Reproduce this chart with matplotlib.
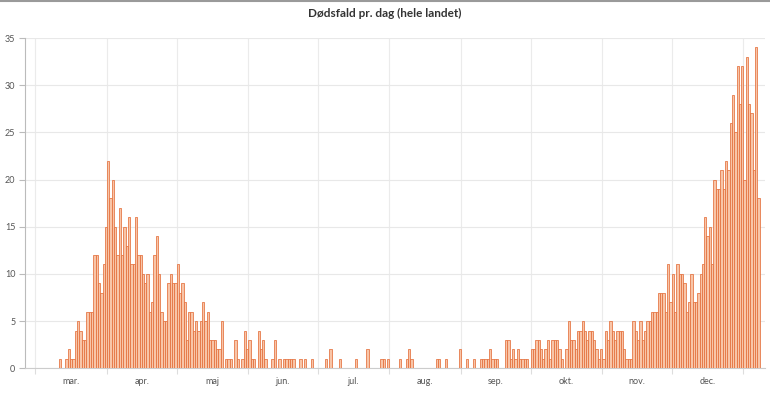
import matplotlib
matplotlib.use("Agg")
import matplotlib.pyplot as plt
import matplotlib.dates as mdates
from matplotlib.lines import Line2D
import pandas as pd

plt.rcParams['font.family'] = ['Lato', 'DejaVu Sans']

# Daily deaths, 26 Feb 2020 -> 7 Jan 2021
feb = [0, 0, 0, 0]
mar = [0, 0, 0, 0, 0, 0, 0, 0, 0, 0, 1, 0, 0, 1, 2, 1, 1, 4, 5, 4,
       3, 3, 6, 6, 6, 12, 12, 9, 8, 11, 15]
apr = [22, 18, 20, 15, 12, 17, 12, 15, 13, 16, 11, 11, 16, 12, 12, 10, 9, 10, 6, 7,
       12, 14, 10, 6, 5, 5, 9, 10, 9, 9]
may = [11, 8, 9, 7, 3, 6, 6, 4, 5, 4, 5, 7, 5, 6, 3, 3, 3, 2, 2, 5,
       0, 1, 1, 1, 0, 3, 1, 0, 1, 4, 2]
jun = [3, 1, 1, 0, 4, 2, 3, 1, 0, 0, 1, 3, 0, 1, 0, 1, 1, 1, 1, 1,
       0, 0, 1, 0, 1, 0, 0, 1, 0, 0]
jul = [0, 0, 0, 1, 0, 2, 0, 0, 0, 1, 0, 0, 0, 0, 0, 0, 1, 0, 0, 0,
       0, 2, 0, 0, 0, 0, 0, 1, 1, 0, 1]
aug = [0, 0, 0, 0, 1, 0, 0, 1, 2, 1, 0, 0, 0, 0, 0, 0, 0, 0, 0, 0,
       1, 1, 0, 0, 1, 0, 0, 0, 0, 0, 2]
sep = [0, 0, 1, 0, 0, 1, 0, 0, 1, 1, 1, 1, 2, 1, 1, 1, 0, 0, 0, 3,
       3, 1, 2, 1, 2, 1, 1, 1, 1, 0]
okt = [2, 2, 3, 3, 2, 1, 2, 3, 1, 3, 3, 3, 2, 1, 0, 2, 5, 3, 3, 2,
       4, 4, 5, 4, 3, 4, 4, 3, 2, 1, 2]
nov = [1, 4, 3, 5, 4, 3, 4, 4, 4, 2, 1, 1, 1, 5, 4, 3, 5, 3, 4, 5,
       5, 6, 6, 6, 8, 8, 8, 6, 11, 7]
dec = [10, 6, 11, 10, 10, 9, 6, 7, 10, 7, 7, 8, 10, 11, 16, 14, 15, 11, 20, 19,
       19, 21, 19, 22, 21, 26, 29, 25, 32, 28, 32]
jan = [20, 33, 28, 27, 21, 34, 18]

values = feb + mar + apr + may + jun + jul + aug + sep + okt + nov + dec + jan
dates = pd.date_range('2020-02-26', periods=len(values), freq='D')

month_labels = ['mar.', 'apr.', 'maj', 'jun.', 'jul.', 'aug.', 'sep.', 'okt.', 'nov.', 'dec.']
month_starts = pd.date_range('2020-03-01', '2021-01-01', freq='MS')
y_ticks = [0, 5, 10, 15, 20, 25, 30, 35]

W, H = 770, 393
fig = plt.figure(figsize=(W / 100, H / 100), dpi=100)
ax = fig.add_axes([25 / W, 1 - 368.3 / H, 740 / W, (368.3 - 38) / H])

xnum = mdates.date2num(dates)
ax.bar(xnum, values, width=1.0, align='edge', color='#f8c5a8',
       edgecolor='#e4703c', linewidth=0.55, zorder=3)

ms = mdates.date2num(month_starts)
for m in ms:
    ax.axvline(m, color='#ebebeb', lw=0.8, zorder=0)

x0 = mdates.date2num(pd.Timestamp('2020-03-01'))
ax.set_xlim(x0 - 4.5, x0 + 315.3)
ax.set_ylim(0, 35)

ax.set_xticks(ms)
ax.set_xticklabels([''] * len(ms))
ax.tick_params(axis='x', which='major', length=4, color='#dddddd', width=0.8)
mids = [(ms[i] + ms[i + 1]) / 2 for i in range(len(month_labels))]
ax.set_xticks(mids, minor=True)
ax.set_xticklabels(month_labels, minor=True, fontsize=6.5, color='#555555')
ax.tick_params(axis='x', which='minor', length=0, pad=6)

ax.set_yticks(y_ticks)
ax.set_yticklabels([str(v) for v in y_ticks], fontsize=6.5, color='#555555')
ax.tick_params(axis='y', length=4, color='#bbbbbb', width=0.8, pad=3)
ax.yaxis.grid(True, color='#e8e8e8', lw=0.8, zorder=0)
ax.set_axisbelow(True)

for s in ['top', 'right']:
    ax.spines[s].set_visible(False)
ax.spines['left'].set_color('#bbbbbb')
ax.spines['left'].set_linewidth(0.8)
ax.spines['bottom'].set_color('#cccccc')
ax.spines['bottom'].set_linewidth(0.8)

fig.add_artist(Line2D([0, 1], [1 - 1 / H, 1 - 1 / H], color='#9a9a9a', lw=1.5,
                      transform=fig.transFigure))
fig.text(0.5, 1 - 13 / H, 'Dødsfald pr. dag (hele landet)', ha='center', va='center',
         fontsize=8.5, color='#333333', fontweight='bold')

fig.savefig('out.png', dpi=100)
